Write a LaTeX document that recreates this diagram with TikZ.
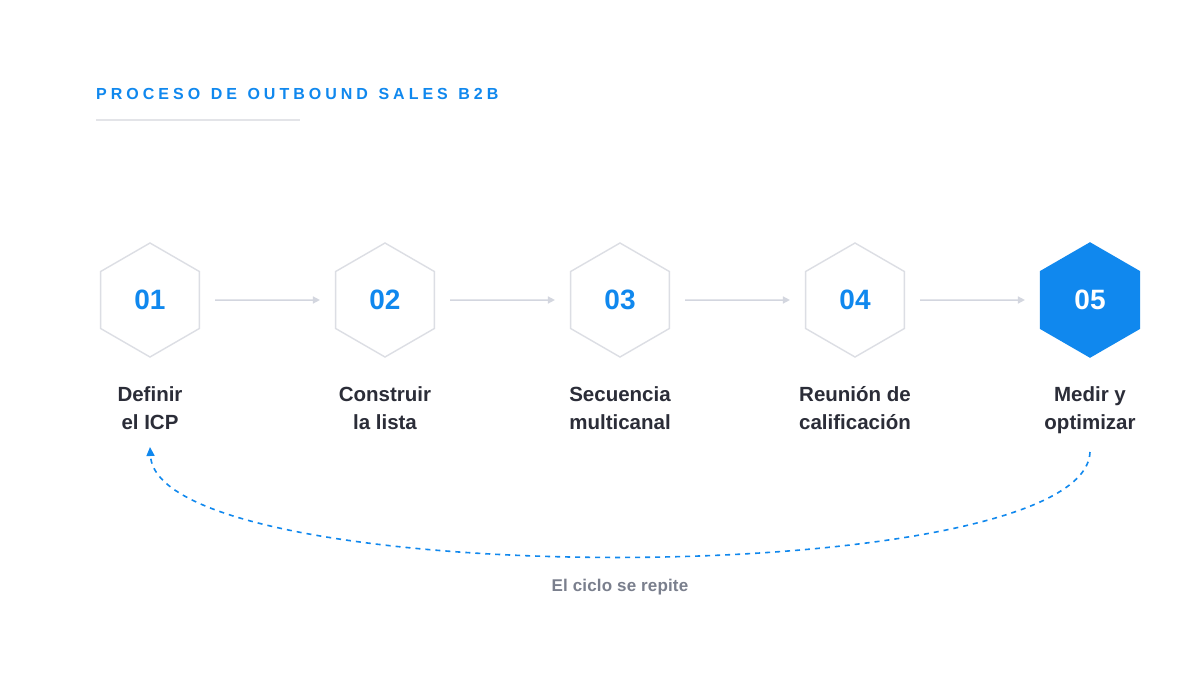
\documentclass[tikz,border=0pt]{standalone}
\usepackage{fontspec}
\setmainfont{Liberation Sans}
\newfontfamily\titlefont[LetterSpace=25,WordSpace=1.25]{Liberation Sans}
\newfontfamily\capfont[LetterSpace=1]{Liberation Sans}
\usetikzlibrary{shapes.geometric,arrows.meta}
\definecolor{accent}{HTML}{1088EE}
\definecolor{hexline}{HTML}{DCDEE4}
\definecolor{arrgray}{HTML}{D3D6DF}
\definecolor{labtext}{HTML}{2B2D38}
\definecolor{captext}{HTML}{7A7F8D}
\definecolor{rulegray}{HTML}{E3E4E8}
\tikzset{
  hexbox/.style={regular polygon, regular polygon sides=6, shape border rotate=30, minimum size=114pt, inner sep=0pt, draw=hexline, line width=1.4pt, fill=white, font=\bfseries\fontsize{28}{30}\selectfont, text=accent},
  hexact/.style={hexbox, draw=accent, fill=accent, text=white},
  steplabel/.style={anchor=north, align=center, font=\bfseries\fontsize{20.5}{28}\selectfont, text=labtext},
  flowarrow/.style={draw=arrgray, line width=1.5pt, -{Triangle[length=7pt,width=7pt]}, shorten <=15pt, shorten >=15pt},
  loopline/.style={draw=accent, line width=1.6pt, dash pattern=on 5pt off 5pt, -{Triangle[length=9pt,width=8pt]}}
}
\begin{document}
\begin{tikzpicture}[x=1pt,y=-1pt]
\path[fill=white,use as bounding box] (0,0) rectangle (1200,675);
\node[anchor=west, inner sep=0pt, text=accent, font=\titlefont\bfseries\fontsize{16}{18}\selectfont] (title) at (96,94) {PROCESO DE OUTBOUND SALES B2B};
\coordinate (r1) at (96,120);
\coordinate (r2) at (300,120);
\draw[rulegray, line width=1.5pt] (r1) -- (r2);

\node[hexbox] (h1) at (150,300) {01};
\node[hexbox] (h2) at (385,300) {02};
\node[hexbox] (h3) at (620,300) {03};
\node[hexbox] (h4) at (855,300) {04};
\node[hexact] (h5) at (1090,300) {05};

\draw[flowarrow] (h1) -- (h2);
\draw[flowarrow] (h2) -- (h3);
\draw[flowarrow] (h3) -- (h4);
\draw[flowarrow] (h4) -- (h5);

\node[steplabel] (l1) at (150,383) {Definir\\el ICP};
\node[steplabel] (l2) at (385,383) {Construir\\la lista};
\node[steplabel] (l3) at (620,383) {Secuencia\\multicanal};
\node[steplabel] (l4) at (855,383) {Reunión de\\calificación};
\node[steplabel] (l5) at (1090,383) {Medir y\\optimizar};

\coordinate (c5) at (1090,452);
\coordinate (c1) at (150,447);
\draw[loopline] (c5) .. controls (1085,592) and (158,592) .. (c1);

\node[text=captext, font=\capfont\bfseries\fontsize{17}{19}\selectfont] (cap) at (620,587) {El ciclo se repite};
\end{tikzpicture}
\end{document}
